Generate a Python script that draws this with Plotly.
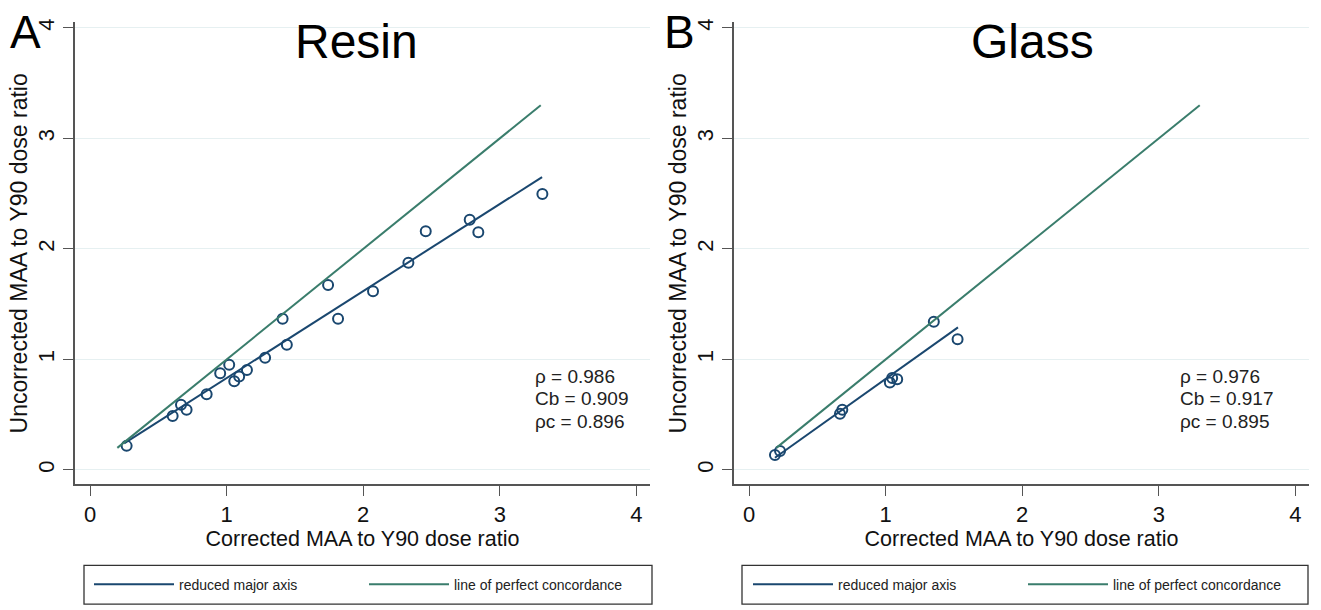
import plotly.graph_objects as go

# ---------------- data ----------------
resin_x = [0.268, 0.605, 0.666, 0.707, 0.854, 0.953, 1.019, 1.056, 1.092, 1.149, 1.282,
           1.410, 1.441, 1.743, 1.816, 2.072, 2.331, 2.458, 2.780, 2.843, 3.312]
resin_y = [0.218, 0.488, 0.590, 0.545, 0.686, 0.875, 0.952, 0.803, 0.845, 0.905, 1.015,
           1.369, 1.132, 1.674, 1.369, 1.617, 1.875, 2.159, 2.264, 2.150, 2.498]
glass_x = [0.190, 0.227, 0.666, 0.683, 1.031, 1.048, 1.085, 1.353, 1.527]
glass_y = [0.135, 0.171, 0.509, 0.545, 0.791, 0.833, 0.820, 1.342, 1.183]

resin_rma_x = [0.25, 3.31]
resin_rma_y = [0.24, 2.65]
glass_rma_x = [0.19, 1.53]
glass_rma_y = [0.11, 1.29]
concord_x = [0.20, 3.30]
concord_y = [0.20, 3.30]

resin_stats = ["ρ = 0.986", "Cb = 0.909", "ρc = 0.896"]
glass_stats = ["ρ = 0.976", "Cb = 0.917", "ρc = 0.895"]
stats_y = [0.85, 0.65, 0.44]

panel_titles = ["Resin", "Glass"]
panel_letters = ["A", "B"]
tick_vals = [0, 1, 2, 3, 4]
legend_names = ["reduced major axis", "line of perfect concordance"]

# ---------------- style ----------------
NAVY = "#1a476f"
GREEN = "#3a7d6c"
AXC = "#555555"
FONT = "Liberation Sans, Arial, sans-serif"
W, H = 1321, 610


def px(xp):
    return xp / W


def py(yp):
    return (H - yp) / H


fig = go.Figure()

# Resin panel
fig.add_trace(go.Scatter(x=resin_x, y=resin_y, mode="markers", showlegend=False,
                         marker=dict(symbol="circle-open", size=10, color=NAVY,
                                     line=dict(width=2, color=NAVY)),
                         xaxis="x", yaxis="y"))
fig.add_trace(go.Scatter(x=resin_rma_x, y=resin_rma_y, mode="lines", name=legend_names[0],
                         line=dict(color=NAVY, width=2), legend="legend",
                         xaxis="x", yaxis="y"))
fig.add_trace(go.Scatter(x=concord_x, y=concord_y, mode="lines", name=legend_names[1],
                         line=dict(color=GREEN, width=2), legend="legend",
                         xaxis="x", yaxis="y"))
# Glass panel
fig.add_trace(go.Scatter(x=glass_x, y=glass_y, mode="markers", showlegend=False,
                         marker=dict(symbol="circle-open", size=10, color=NAVY,
                                     line=dict(width=2, color=NAVY)),
                         xaxis="x2", yaxis="y2"))
fig.add_trace(go.Scatter(x=glass_rma_x, y=glass_rma_y, mode="lines", name=legend_names[0],
                         line=dict(color=NAVY, width=2), legend="legend2",
                         xaxis="x2", yaxis="y2"))
fig.add_trace(go.Scatter(x=concord_x, y=concord_y, mode="lines", name=legend_names[1],
                         line=dict(color=GREEN, width=2), legend="legend2",
                         xaxis="x2", yaxis="y2"))

ydom = [py(483.5), py(18.5)]
xcommon = dict(range=[-0.11, 4.1], tickvals=tick_vals, showline=True, linecolor=AXC,
               linewidth=1.5, ticks="outside", ticklen=10, tickwidth=1.3, tickcolor=AXC,
               showgrid=False, zeroline=False, tickfont=dict(size=22, color="#111"),
               title=dict(text="Corrected MAA to Y90 dose ratio",
                          font=dict(size=21.5, color="#111"), standoff=4))
ycommon = dict(range=[-0.13, 4.05], tickvals=tick_vals, showline=True, linecolor=AXC,
               linewidth=1.5, ticks="outside", ticklen=10, tickwidth=1.3, tickcolor=AXC,
               showgrid=True, gridcolor="#e6f0f1", gridwidth=1, zeroline=False,
               tickangle=-90, tickfont=dict(size=22, color="#111"),
               title=dict(text="Uncorrected MAA to Y90 dose ratio",
                          font=dict(size=23, color="#111"), standoff=0))

legend_common = dict(orientation="h", xanchor="left", yanchor="middle", y=py(584.5),
                     borderwidth=0, bgcolor="rgba(0,0,0,0)",
                     font=dict(size=14, color="#222"), entrywidth=180, itemwidth=80)

fig.update_layout(
    width=W, height=H,
    margin=dict(l=0, r=0, t=0, b=0),
    paper_bgcolor="white", plot_bgcolor="white",
    font=dict(family=FONT, color="#111"),
    xaxis=dict(domain=[px(75), px(650)], anchor="y", **xcommon),
    yaxis=dict(domain=ydom, anchor="x", **ycommon),
    xaxis2=dict(domain=[px(734), px(1309)], anchor="y2", **xcommon),
    yaxis2=dict(domain=ydom, anchor="x2", **ycommon),
    legend=dict(x=px(89), **legend_common),
    legend2=dict(x=px(748), **legend_common),
    showlegend=True,
)

# legend frames
box_x = [(84, 652), (742, 1308)]
shapes = []
for x0, x1 in box_x:
    shapes.append(dict(type="rect", xref="paper", yref="paper",
                       x0=px(x0), x1=px(x1), y0=py(604), y1=py(565),
                       line=dict(color="#333", width=1.3), fillcolor="rgba(0,0,0,0)",
                       layer="below"))
fig.update_layout(shapes=shapes)

annotations = []
title_x = [356, 1032]
letter_x = [25, 679]
for i in range(2):
    annotations.append(dict(text=panel_titles[i], x=px(title_x[i]), y=py(38),
                            xref="paper", yref="paper", showarrow=False,
                            xanchor="center", yanchor="middle",
                            font=dict(size=48, color="#000")))
    annotations.append(dict(text=panel_letters[i], x=px(letter_x[i]), y=1,
                            xref="paper", yref="paper", showarrow=False,
                            xanchor="center", yanchor="top",
                            font=dict(size=46, color="#000")))
for txt, yy in zip(resin_stats, stats_y):
    annotations.append(dict(text=txt, x=3.24, y=yy, xref="x", yref="y", showarrow=False,
                            xanchor="left", yanchor="middle",
                            font=dict(size=19, color="#222")))
for txt, yy in zip(glass_stats, stats_y):
    annotations.append(dict(text=txt, x=3.14, y=yy, xref="x2", yref="y2", showarrow=False,
                            xanchor="left", yanchor="middle",
                            font=dict(size=19, color="#222")))
fig.update_layout(annotations=annotations)

fig.write_html("out.html", config={"displayModeBar": False},
               post_script="document.body.style.margin = '0px';")
